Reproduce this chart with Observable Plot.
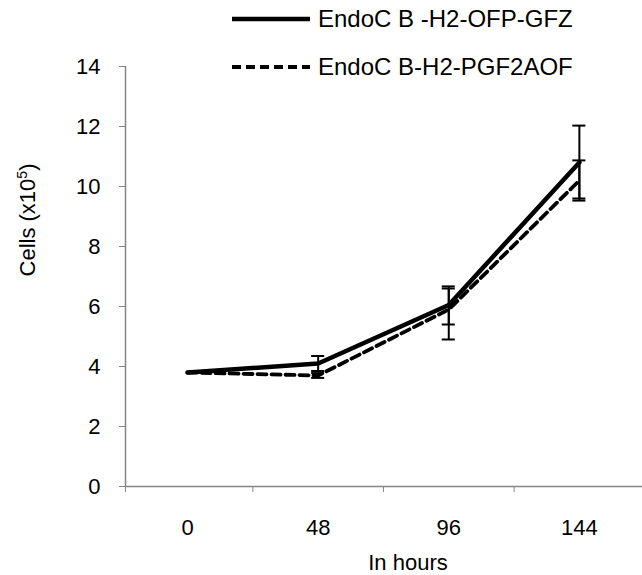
<!DOCTYPE html>
<html>
<head>
<meta charset="utf-8">
<script src="https://cdn.jsdelivr.net/npm/d3@7"></script>
<script src="https://cdn.jsdelivr.net/npm/@observablehq/plot@0.6"></script>
<style>
  html, body { margin: 0; padding: 0; background: #fff; }
  #wrap { position: relative; width: 642px; height: 575px; font-family: Arial, "Liberation Sans", sans-serif; color: #000; }
  .abs { position: absolute; white-space: nowrap; font-size: 22px; line-height: 1; }
</style>
</head>
<body>
<div id="wrap"></div>
<script>
// ---- data ----
const hours = [0, 48, 96, 144];
const seriesNames = ["EndoC B -H2-OFP-GFZ", "EndoC B-H2-PGF2AOF"];
const solidValues = [3.8, 4.1, 6.05, 10.8];
const solidLow    = [3.8, 3.85, 5.4, 9.6];
const solidHigh   = [3.8, 4.35, 6.67, 12.03];
const dashedValues = [3.8, 3.7, 5.9, 10.2];
const dashedLow    = [3.8, 3.62, 4.9, 9.53];
const dashedHigh   = [3.8, 3.78, 6.6, 10.87];
const yTicks = [0, 2, 4, 6, 8, 10, 12, 14];
const xTickLabels = ["0", "48", "96", "144"];
const yLabel = "Cells (x10<sup>5</sup>)";
const xLabel = "In hours";

// ---- build table ----
const rows = [];
hours.forEach((h, i) => {
  rows.push({series: seriesNames[0], t: h, v: solidValues[i], lo: solidLow[i], hi: solidHigh[i]});
});
hours.forEach((h, i) => {
  rows.push({series: seriesNames[1], t: h, v: dashedValues[i], lo: dashedLow[i], hi: dashedHigh[i]});
});
const solid = rows.filter(d => d.series === seriesNames[0]);
const dashed = rows.filter(d => d.series === seriesNames[1]);
const bars = rows.filter(d => d.hi > d.lo);

const xDomain = [-22.8, 167.2];
const cap = 2.4;
const gray = "#868686";
const boundaries = [xDomain[0], 24, 72, 120];

const chart = Plot.plot({
  width: 642,
  height: 575,
  marginLeft: 125,
  marginRight: 0,
  marginTop: 66,
  marginBottom: 89,
  style: {fontFamily: "Arial, 'Liberation Sans', sans-serif", fontSize: "22px", color: "#000", background: "#fff"},
  x: {type: "linear", domain: xDomain},
  y: {domain: [0, 14]},
  marks: [
    Plot.axisY({ticks: yTicks, tickSize: 6, tickPadding: 19, stroke: gray, label: null, fontSize: 22}),
    Plot.axisX({ticks: boundaries, tickSize: 6, tickFormat: () => "", stroke: gray, label: null}),
    Plot.axisX({ticks: hours, tickSize: 0, tickPadding: 33, tickFormat: (d, i) => xTickLabels[hours.indexOf(d)], label: null, fontSize: 22}),
    Plot.ruleX([xDomain[0]], {y1: 0, y2: 14, stroke: gray, strokeWidth: 1.5}),
    Plot.ruleY([0], {stroke: gray, strokeWidth: 1.5}),
    Plot.line(solid, {x: "t", y: "v", stroke: "#000", strokeWidth: 4.5}),
    Plot.line(dashed, {x: "t", y: "v", stroke: "#000", strokeWidth: 3.8, strokeDasharray: "9,5"}),
    Plot.ruleX(bars, {x: "t", y1: "lo", y2: "hi", stroke: "#000", strokeWidth: 2}),
    Plot.ruleY(bars, {y: "lo", x1: d => d.t - cap, x2: d => d.t + cap, stroke: "#000", strokeWidth: 2}),
    Plot.ruleY(bars, {y: "hi", x1: d => d.t - cap, x2: d => d.t + cap, stroke: "#000", strokeWidth: 2})
  ]
});

const wrap = document.getElementById("wrap");
chart.style.position = "absolute";
chart.style.left = "0";
chart.style.top = "0";
wrap.appendChild(chart);

// legend (HTML overlay)
const legend = document.createElement("div");
legend.className = "abs";
legend.style.left = "230px";
legend.style.top = "7px";
legend.style.fontSize = "24px";
const styles = [{dash: null, w: 4.5}, {dash: "9,5", w: 3.8}];
legend.innerHTML = seriesNames.map((name, i) => `
  <div style="display:flex;align-items:center;height:24px;margin-bottom:${i === 0 ? 24 : 0}px">
    <svg width="82" height="12" style="display:block"><line x1="2" x2="80" y1="6" y2="6" stroke="#000" stroke-width="${styles[i].w}" ${styles[i].dash ? `stroke-dasharray="${styles[i].dash}"` : ""}/></svg>
    <span style="margin-left:6px">${name}</span>
  </div>`).join("");
wrap.appendChild(legend);

// axis titles
const yl = document.createElement("div");
yl.className = "abs";
yl.innerHTML = yLabel.replace("<sup>", "<sup style='font-size:14px;vertical-align:top;position:relative;top:-2px'>");
yl.style.left = "28px";
yl.style.top = "220px";
yl.style.transform = "translate(-50%,-50%) rotate(-90deg)";
wrap.appendChild(yl);

const xl = document.createElement("div");
xl.className = "abs";
xl.textContent = xLabel;
xl.style.left = "408px";
xl.style.top = "563px";
xl.style.transform = "translate(-50%,-50%)";
wrap.appendChild(xl);
</script>
</body>
</html>
